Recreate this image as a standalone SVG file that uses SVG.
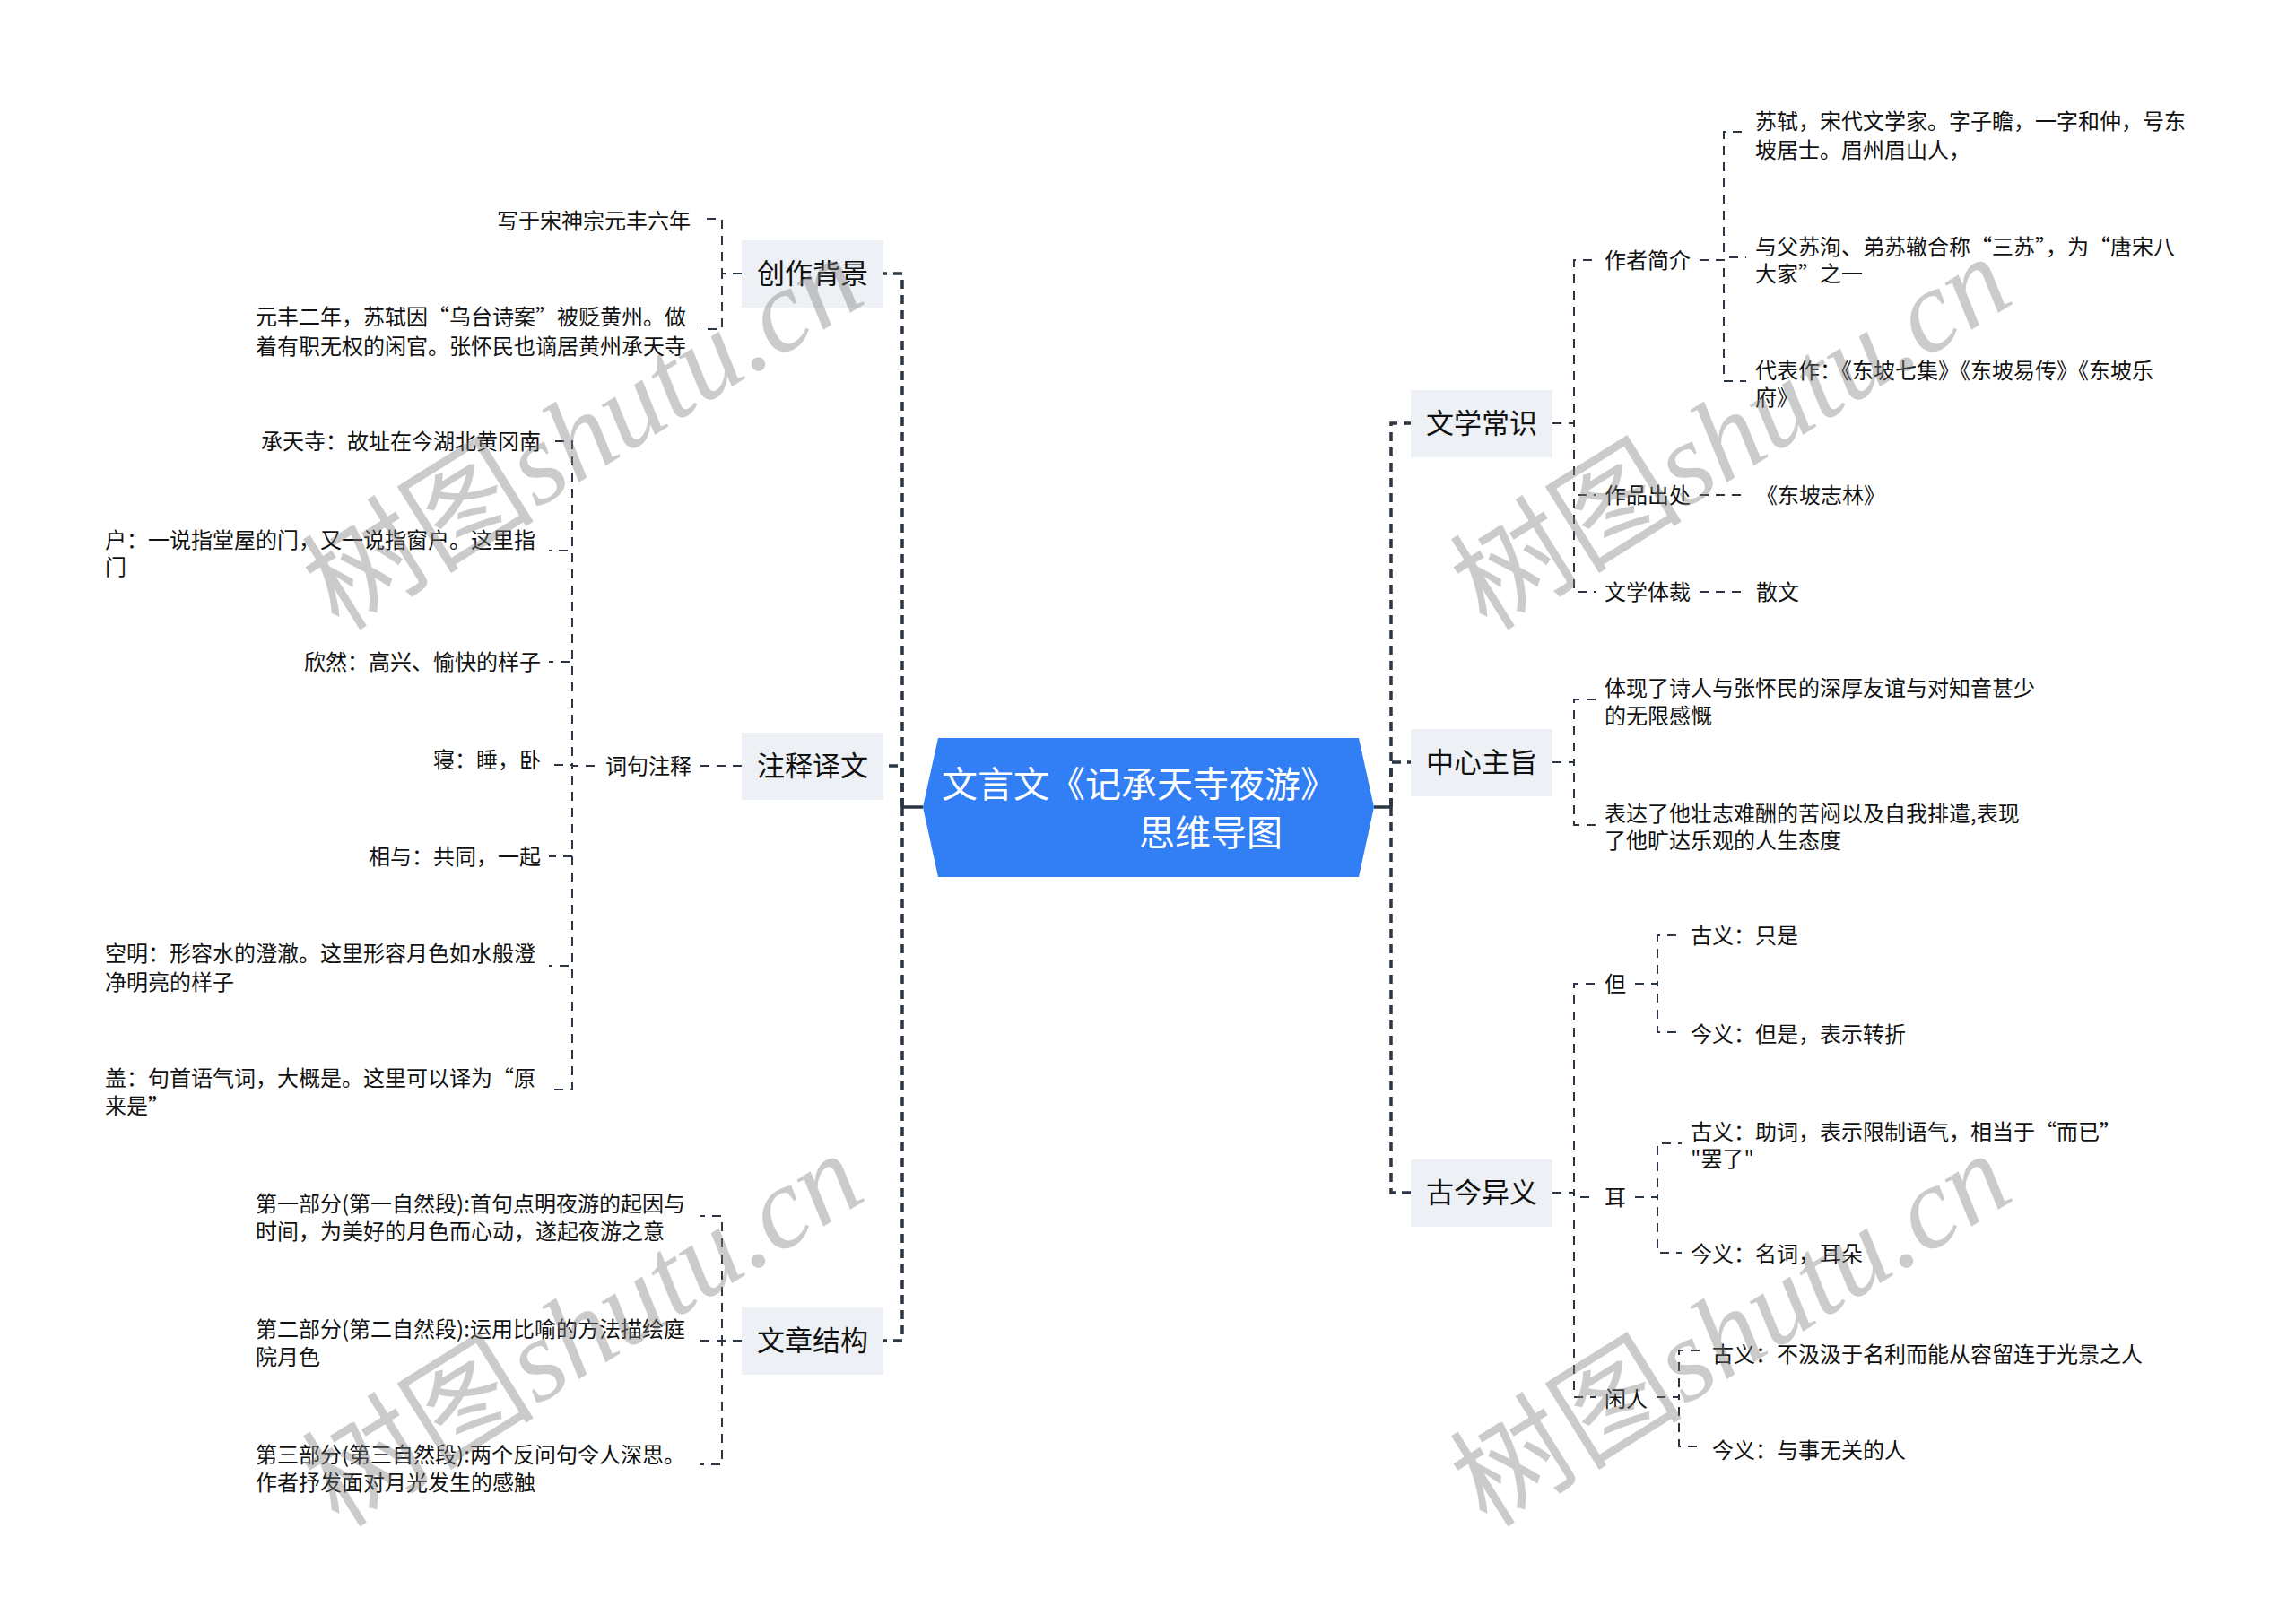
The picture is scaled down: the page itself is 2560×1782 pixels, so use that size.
<svg xmlns="http://www.w3.org/2000/svg" width="2560" height="1782" viewBox="0 0 2560 1782">
<style>
text{font-family:"Noto Sans CJK SC","Noto Sans CJK TC",sans-serif;fill:#111}
.leaf{font-size:24px}
.end{text-anchor:end}
.l1{font-size:31px;text-anchor:middle;fill:#111}
.box{fill:#edf0f4}
.root{font-size:40px;fill:#fff}
.c1{fill:none;stroke:#2b3544;stroke-width:3.5;stroke-dasharray:10 7}
.c1s{fill:none;stroke:#2b3544;stroke-width:3.5}
.c2{fill:none;stroke:#2b3544;stroke-width:2;stroke-dasharray:10 8}
.wm{font-size:130px;fill:#808080;opacity:0.4}
</style>
<rect width="2560" height="1782" fill="#fff"/>
<g id="connectors">
<path class="c1s" d="M1029,900 H1006"/>
<path class="c1" d="M1006,900 V305 H985"/>
<path class="c1" d="M1006,900 V854 H985"/>
<path class="c1" d="M1006,900 V1495 H985"/>
<path class="c1s" d="M1532,900 H1551"/>
<path class="c1" d="M1551,900 V472 H1573"/>
<path class="c1" d="M1551,900 V850 H1573"/>
<path class="c1" d="M1551,900 V1330 H1573"/>
<path class="c2" d="M827,305 H805 V244 H780"/>
<path class="c2" d="M827,305 H805 V367 H780"/>
<path class="c2" d="M827,854 H781"/>
<path class="c2" d="M663,854 H638 V492 H612"/>
<path class="c2" d="M663,854 H638 V614 H612"/>
<path class="c2" d="M663,854 H638 V738 H612"/>
<path class="c2" d="M663,854 H638 V853 H612"/>
<path class="c2" d="M663,854 H638 V955 H612"/>
<path class="c2" d="M663,854 H638 V1077 H612"/>
<path class="c2" d="M663,854 H638 V1215 H612"/>
<path class="c2" d="M827,1495 H805 V1356 H780"/>
<path class="c2" d="M827,1495 H805 V1495 H780"/>
<path class="c2" d="M827,1495 H805 V1633 H780"/>
<path class="c2" d="M1731,472 H1755 V290 H1779"/>
<path class="c2" d="M1731,472 H1755 V552 H1779"/>
<path class="c2" d="M1731,472 H1755 V660 H1779"/>
<path class="c2" d="M1895,290 H1922 V147 H1947"/>
<path class="c2" d="M1895,290 H1922 V287 H1947"/>
<path class="c2" d="M1895,290 H1922 V425 H1947"/>
<path class="c2" d="M1895,552 H1948"/>
<path class="c2" d="M1895,660 H1948"/>
<path class="c2" d="M1731,850 H1755 V780 H1779"/>
<path class="c2" d="M1731,850 H1755 V920 H1779"/>
<path class="c2" d="M1731,1330 H1755 V1097 H1779"/>
<path class="c2" d="M1731,1330 H1755 V1335 H1779"/>
<path class="c2" d="M1731,1330 H1755 V1558 H1779"/>
<path class="c2" d="M1823,1097 H1848 V1043 H1875"/>
<path class="c2" d="M1823,1097 H1848 V1151 H1875"/>
<path class="c2" d="M1823,1335 H1848 V1275 H1875"/>
<path class="c2" d="M1823,1335 H1848 V1397 H1875"/>
<path class="c2" d="M1847,1558 H1872 V1506 H1899"/>
<path class="c2" d="M1847,1558 H1872 V1613 H1899"/>
</g>
<g id="root">
<polygon points="1046,823 1515,823 1532,900 1515,978 1046,978 1029,900" fill="#317ef5"/>
<text class="root" x="1050" y="889">文言文《记承天寺夜游》</text>
<text class="root" x="1270" y="943">思维导图</text>
</g>
<g id="n-chuangzuo">
<rect class="box" x="827" y="268" width="158" height="75"/>
<text class="l1" x="906" y="316">创作背景</text>
</g>
<g id="n-chuangzuo-1"><text class="leaf end" x="770" y="255">写于宋神宗元丰六年</text></g>
<g id="n-chuangzuo-2"><text class="leaf" x="285" y="362">元丰二年，苏轼因“乌台诗案”被贬黄州。做</text><text class="leaf" x="285" y="395">着有职无权的闲官。张怀民也谪居黄州承天寺</text></g>
<g id="n-zhushi">
<rect class="box" x="827" y="817" width="158" height="75"/>
<text class="l1" x="906" y="865">注释译文</text>
</g>
<g id="n-ciju"><text class="leaf end" x="771" y="863">词句注释</text></g>
<g id="n-ciju-1"><text class="leaf end" x="603" y="501">承天寺：故址在今湖北黄冈南</text></g>
<g id="n-ciju-2"><text class="leaf" x="117" y="611">户：一说指堂屋的门，又一说指窗户。这里指</text><text class="leaf" x="117" y="641">门</text></g>
<g id="n-ciju-3"><text class="leaf end" x="603" y="747">欣然：高兴、愉快的样子</text></g>
<g id="n-ciju-4"><text class="leaf end" x="603" y="856">寝：睡，卧</text></g>
<g id="n-ciju-5"><text class="leaf end" x="603" y="964">相与：共同，一起</text></g>
<g id="n-ciju-6"><text class="leaf" x="117" y="1072">空明：形容水的澄澈。这里形容月色如水般澄</text><text class="leaf" x="117" y="1104">净明亮的样子</text></g>
<g id="n-ciju-7"><text class="leaf" x="117" y="1211">盖：句首语气词，大概是。这里可以译为“原</text><text class="leaf" x="117" y="1242">来是”</text></g>
<g id="n-jiegou">
<rect class="box" x="827" y="1458" width="158" height="75"/>
<text class="l1" x="906" y="1506">文章结构</text>
</g>
<g id="n-jiegou-1"><text class="leaf" x="285" y="1351">第一部分(第一自然段):首句点明夜游的起因与</text><text class="leaf" x="285" y="1382">时间，为美好的月色而心动，遂起夜游之意</text></g>
<g id="n-jiegou-2"><text class="leaf" x="285" y="1491">第二部分(第二自然段):运用比喻的方法描绘庭</text><text class="leaf" x="285" y="1522">院月色</text></g>
<g id="n-jiegou-3"><text class="leaf" x="285" y="1631">第三部分(第三自然段):两个反问句令人深思。</text><text class="leaf" x="285" y="1662">作者抒发面对月光发生的感触</text></g>
<g id="n-wenxue">
<rect class="box" x="1573" y="435" width="158" height="75"/>
<text class="l1" x="1652" y="483">文学常识</text>
</g>
<g id="n-zuozhe"><text class="leaf" x="1789" y="299">作者简介</text></g>
<g id="n-zuozhe-1"><text class="leaf" x="1957" y="144">苏轼，宋代文学家。字子瞻，一字和仲，号东</text><text class="leaf" x="1957" y="176">坡居士。眉州眉山人，</text></g>
<g id="n-zuozhe-2"><text class="leaf" x="1957" y="284">与父苏洵、弟苏辙合称“三苏”，为“唐宋八</text><text class="leaf" x="1957" y="314">大家”之一</text></g>
<g id="n-zuozhe-3"><text class="leaf" x="1957" y="422">代表作：《东坡七集》《东坡易传》《东坡乐</text><text class="leaf" x="1957" y="452">府》</text></g>
<g id="n-chuchu"><text class="leaf" x="1789" y="561">作品出处</text></g>
<g id="n-chuchu-1"><text class="leaf" x="1958" y="561">《东坡志林》</text></g>
<g id="n-ticai"><text class="leaf" x="1789" y="669">文学体裁</text></g>
<g id="n-ticai-1"><text class="leaf" x="1958" y="669">散文</text></g>
<g id="n-zhuzhi">
<rect class="box" x="1573" y="813" width="158" height="75"/>
<text class="l1" x="1652" y="861">中心主旨</text>
</g>
<g id="n-zhuzhi-1"><text class="leaf" x="1789" y="776">体现了诗人与张怀民的深厚友谊与对知音甚少</text><text class="leaf" x="1789" y="807">的无限感慨</text></g>
<g id="n-zhuzhi-2"><text class="leaf" x="1789" y="916">表达了他壮志难酬的苦闷以及自我排遣,表现</text><text class="leaf" x="1789" y="946">了他旷达乐观的人生态度</text></g>
<g id="n-gujin">
<rect class="box" x="1573" y="1293" width="158" height="75"/>
<text class="l1" x="1652" y="1341">古今异义</text>
</g>
<g id="n-dan"><text class="leaf" x="1789" y="1106">但</text></g>
<g id="n-dan-1"><text class="leaf" x="1885" y="1052">古义：只是</text></g>
<g id="n-dan-2"><text class="leaf" x="1885" y="1162">今义：但是，表示转折</text></g>
<g id="n-er"><text class="leaf" x="1789" y="1344">耳</text></g>
<g id="n-er-1"><text class="leaf" x="1885" y="1271">古义：助词，表示限制语气，相当于“而已”</text><text class="leaf" x="1885" y="1301">"罢了"</text></g>
<g id="n-er-2"><text class="leaf" x="1885" y="1407">今义：名词，耳朵</text></g>
<g id="n-xianren"><text class="leaf" x="1789" y="1569">闲人</text></g>
<g id="n-xianren-1"><text class="leaf" x="1909" y="1519">古义：不汲汲于名利而能从容留连于光景之人</text></g>
<g id="n-xianren-2"><text class="leaf" x="1909" y="1626">今义：与事无关的人</text></g>
<g id="watermarks">
<text class="wm" x="378" y="705" transform="rotate(-32 378 705)">树图<tspan font-family="Liberation Serif" font-style="italic">shutu.cn</tspan></text>
<text class="wm" x="1658" y="705" transform="rotate(-32 1658 705)">树图<tspan font-family="Liberation Serif" font-style="italic">shutu.cn</tspan></text>
<text class="wm" x="378" y="1705" transform="rotate(-32 378 1705)">树图<tspan font-family="Liberation Serif" font-style="italic">shutu.cn</tspan></text>
<text class="wm" x="1658" y="1705" transform="rotate(-32 1658 1705)">树图<tspan font-family="Liberation Serif" font-style="italic">shutu.cn</tspan></text>
</g>
</svg>
